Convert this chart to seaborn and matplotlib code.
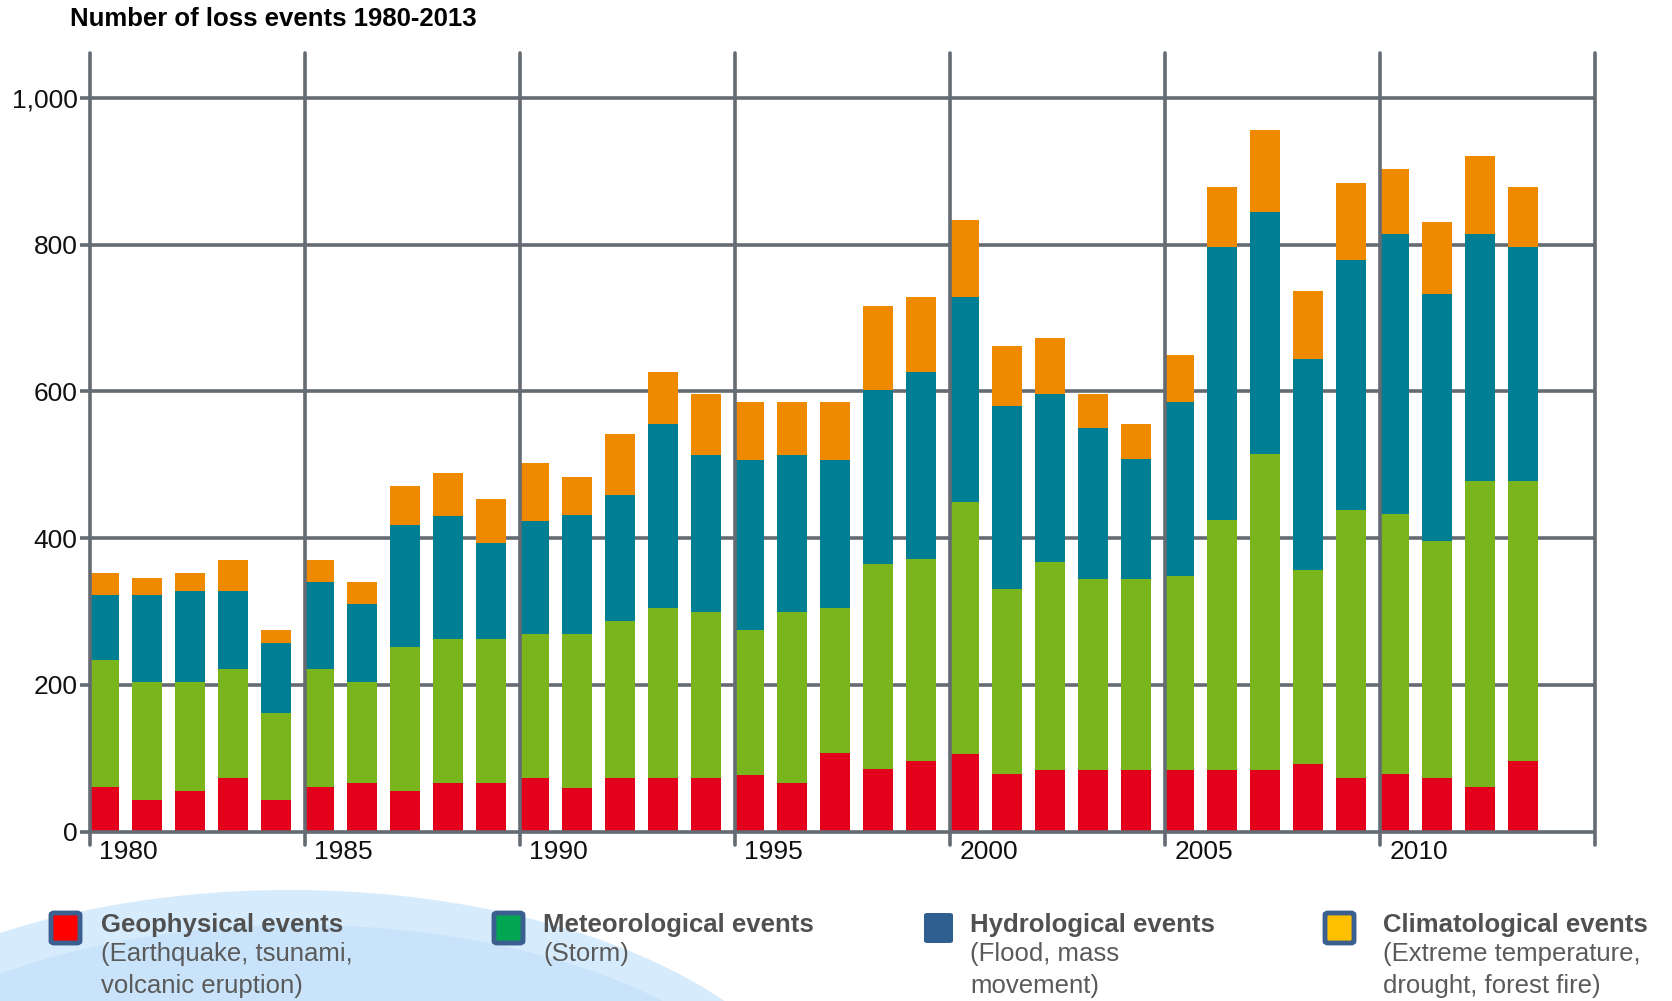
import numpy as np
import pandas as pd
import matplotlib
matplotlib.use('Agg')
import matplotlib.pyplot as plt
import seaborn as sns
from matplotlib.patches import Ellipse, FancyBboxPatch

# data (number of loss events per year)
years = list(range(1980, 2014))
geophysical = [61, 43, 55, 73, 43, 61, 66, 55, 66, 66,
               73, 60, 73, 73, 73, 78, 66, 108, 85, 96,
               106, 79, 84, 84, 84, 84, 84, 84, 92, 73,
               79, 73, 61, 97]
meteorological = [173, 161, 149, 149, 119, 161, 138, 197, 197, 197,
                   197, 210, 214, 232, 227, 197, 234, 197, 280, 275,
                   343, 252, 284, 260, 260, 265, 341, 431, 264, 365,
                   354, 323, 417, 381]
hydrological = [89, 119, 124, 106, 95, 118, 106, 166, 167, 131,
                154, 161, 172, 250, 214, 232, 214, 202, 237, 256,
                279, 249, 229, 206, 164, 236, 372, 329, 288, 341,
                381, 336, 336, 319]
climatological = [30, 23, 25, 42, 18, 30, 30, 53, 59, 60,
                  78, 53, 83, 72, 83, 78, 71, 78, 115, 102,
                  106, 82, 76, 47, 48, 65, 82, 112, 93, 105,
                  89, 99, 107, 82]

yticks = [0, 200, 400, 600, 800, 1000]
ytick_labels = ['0', '200', '400', '600', '800', '1,000']
decade_labels = ['1980', '1985', '1990', '1995', '2000', '2005', '2010']

legend_titles = ['Geophysical events', 'Meteorological events',
                 'Hydrological events', 'Climatological events']
legend_notes = ['(Earthquake, tsunami,\nvolcanic eruption)', '(Storm)',
                '(Flood, mass\nmovement)', '(Extreme temperature,\ndrought, forest fire)']

bar_colors = ['#E2001A', '#7AB51D', '#007E93', '#EF8A00']
legend_colors = ['#FF0000', '#00A651', '#2F5F91', '#FFC000']
grid_col = '#646B72'

df = pd.DataFrame({'year': years, 'geo': geophysical, 'met': meteorological,
                   'hyd': hydrological, 'cli': climatological})
df['c1'] = df['geo']
df['c2'] = df['c1'] + df['met']
df['c3'] = df['c2'] + df['hyd']
df['c4'] = df['c3'] + df['cli']

sns.set_style('white')
plt.rcParams['font.family'] = ['Liberation Sans', 'DejaVu Sans']

W, H = 1672, 1001
fig = plt.figure(figsize=(W / 100, H / 100), dpi=100)


def fx(px):
    return px / W


def fy(py):
    return 1 - py / H


ax = fig.add_axes([fx(90), fy(845), fx(1595) - fx(90), fy(53) - fy(845)])
ax.patch.set_alpha(0)

# stacked bars: draw cumulative totals from the top down
for col, c in zip(['c4', 'c3', 'c2', 'c1'], bar_colors[::-1]):
    sns.barplot(data=df, x='year', y=col, native_scale=True, width=0.7,
                color=c, saturation=1, linewidth=0, edgecolor='none',
                ax=ax, zorder=2)

x0 = 1979.67
x1 = 2014.67
ax.set_xlim(x0, x1)
ax.set_ylim(-18, 1061)

lw = 2.6
# grid
for v in yticks:
    ax.axhline(v, color=grid_col, lw=lw, zorder=3 if v == 0 else 1)
lines = [x0 + 5 * k for k in range(8)]
for xv in lines:
    ax.axvline(xv, color=grid_col, lw=lw, zorder=3, clip_on=False)

ax.set_yticks(yticks)
ax.set_yticklabels(ytick_labels, fontsize=19, color='#111111')
ax.tick_params(axis='y', length=7, width=lw, color=grid_col, pad=2, left=True)
ax.set_xticks([])
ax.set_xlabel('')
ax.set_ylabel('')
for s in ax.spines.values():
    s.set_visible(False)

for xv, lab in zip(lines[:-1], decade_labels):
    ax.text(xv + 0.22, -27, lab, ha='left', va='center', fontsize=19,
            color='#111111', clip_on=False)

fig.text(fx(70), fy(19), 'Number of loss events 1980-2013', fontsize=18.5,
         fontweight='bold', ha='left', va='center', color='#000000')

# decorative swoosh behind the legend
fig.patches.append(Ellipse((fx(290), fy(1170)), fx(1090), 560 / H,
                           transform=fig.transFigure, facecolor='#D6EBFB',
                           edgecolor='none', zorder=0))
fig.patches.append(Ellipse((fx(300), fy(1175)), fx(1010), 500 / H,
                           transform=fig.transFigure, facecolor='#C9E4FA',
                           edgecolor='none', zorder=0))

# legend
box_x = [48, 491, 921, 1322]
text_x = [101, 543, 970, 1383]
for i in range(4):
    bordered = i != 2
    ec = '#3B5F8F' if bordered else legend_colors[i]
    box = FancyBboxPatch((fx(box_x[i] + 3), fy(943)), fx(29), 30 / H,
                         boxstyle='round,pad=0,rounding_size=0.002',
                         transform=fig.transFigure, facecolor=legend_colors[i],
                         edgecolor=ec, linewidth=3.5 if bordered else 0, zorder=2)
    fig.patches.append(box)
    fig.text(fx(text_x[i]), fy(925), legend_titles[i], fontsize=18.5,
             fontweight='bold', color='#505050', ha='left', va='center')
    fig.text(fx(text_x[i]), fy(942), legend_notes[i], fontsize=18.5,
             color='#5a5a5a', ha='left', va='top', linespacing=1.42)

fig.savefig('out.png', dpi=100)
